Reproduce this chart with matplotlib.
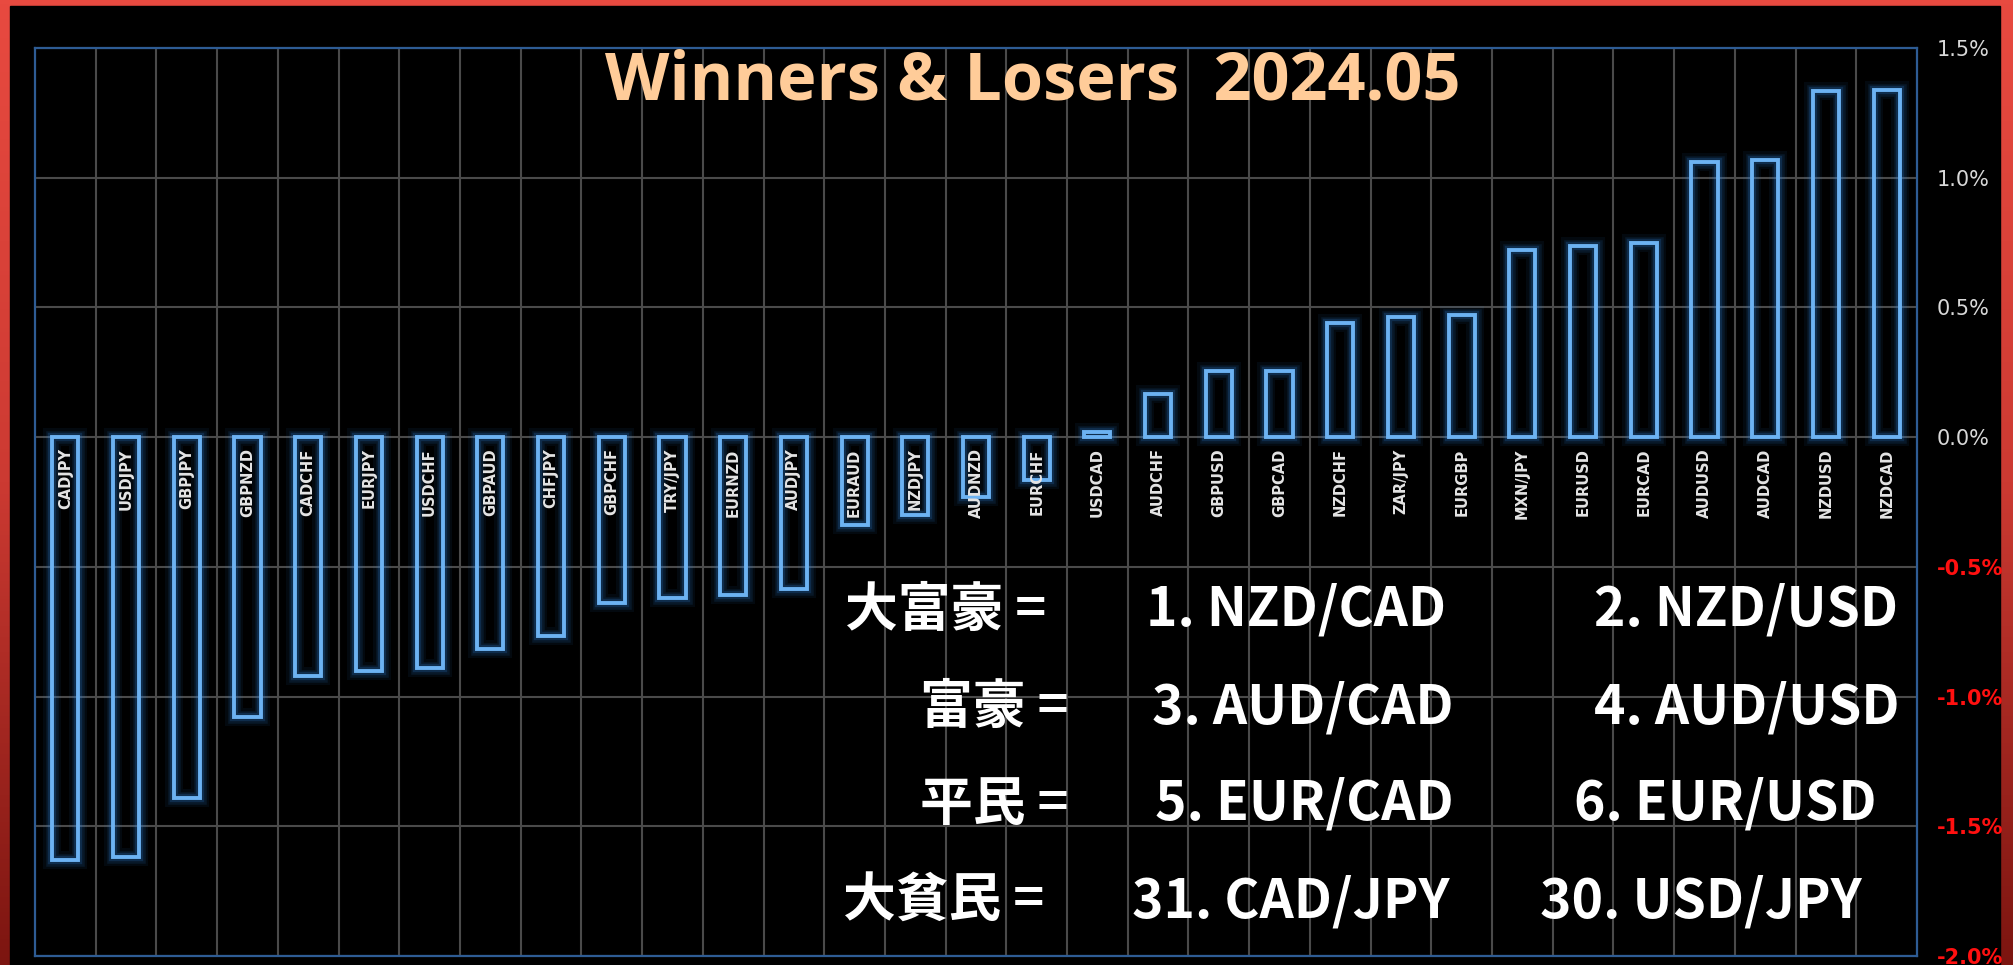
import matplotlib.pyplot as plt
import numpy as np
from matplotlib.patches import Rectangle
from matplotlib.colors import LinearSegmentedColormap

# monthly change (%) per pair, sorted low -> high
pairs = ['CADJPY', 'USDJPY', 'GBPJPY', 'GBPNZD', 'CADCHF', 'EURJPY', 'USDCHF', 'GBPAUD',
         'CHFJPY', 'GBPCHF', 'TRY/JPY', 'EURNZD', 'AUDJPY', 'EURAUD', 'NZDJPY', 'AUDNZD',
         'EURCHF', 'USDCAD', 'AUDCHF', 'GBPUSD', 'GBPCAD', 'NZDCHF', 'ZAR/JPY', 'EURGBP',
         'MXN/JPY', 'EURUSD', 'EURCAD', 'AUDUSD', 'AUDCAD', 'NZDUSD', 'NZDCAD']
change = [-1.63, -1.62, -1.39, -1.08, -0.92, -0.90, -0.89, -0.815,
          -0.765, -0.64, -0.62, -0.61, -0.585, -0.34, -0.30, -0.23,
          -0.165, 0.02, 0.165, 0.255, 0.255, 0.44, 0.465, 0.47,
          0.72, 0.735, 0.75, 1.06, 1.07, 1.335, 1.34]
yticks = [-2.0, -1.5, -1.0, -0.5, 0.0, 0.5, 1.0, 1.5]

rank_titles = ['大富豪 =', '富豪 =', '平民 =', '大貧民 =']
rank_first = ['1. NZD/CAD', '3. AUD/CAD', '5. EUR/CAD', '31. CAD/JPY']
rank_second = ['2. NZD/USD', '4. AUD/USD', '6. EUR/USD', '30. USD/JPY']

W, H = 2013, 965
fig = plt.figure(figsize=(W / 100, H / 100), dpi=100)

# red frame + black panel
bg = fig.add_axes([0, 0, 1, 1])
bg.axis('off')
cmap = LinearSegmentedColormap.from_list('frame', ['#e84a40', '#cc3a32', '#7c1510'])
bg.imshow(np.linspace(0, 1, 256).reshape(-1, 1), aspect='auto', cmap=cmap,
          extent=[0, 1, 0, 1])
bg.add_patch(Rectangle((10 / W, 0), 1990 / W, 1 - 6 / H, color='black'))
bg.set_xlim(0, 1)
bg.set_ylim(0, 1)

ax = fig.add_axes([35 / W, 1 - 956 / H, 1882 / W, 908 / H])
ax.set_facecolor('black')
x = np.arange(len(pairs))

# glow, then the outline
for lw, a in [(13, 0.07), (9, 0.12), (6, 0.2)]:
    ax.bar(x, change, 0.43, facecolor='none', edgecolor='#2f86e0', linewidth=lw, alpha=a)
ax.bar(x, change, 0.43, facecolor='none', edgecolor='#6cb2f2', linewidth=2.8)

ax.set_xlim(-0.5, len(pairs) - 0.5)
ax.set_ylim(-2.0, 1.5)
ax.set_xticks([])
ax.set_xticks(x[:-1] + 0.5, minor=True)
ax.set_yticks(yticks)
ax.set_yticklabels([f'{v:.1f}%' for v in yticks], fontsize=15)
ax.yaxis.tick_right()
ax.tick_params(which='both', length=0)
ax.tick_params(axis='y', pad=14)
for lbl, v in zip(ax.get_yticklabels(), yticks):
    lbl.set_color('#ff1010' if v < 0 else '#d8d8d8')
    lbl.set_fontweight('bold' if v < 0 else 'normal')
ax.grid(which='minor', axis='x', color='#4a4a4a', lw=1.5)
ax.grid(which='major', axis='y', color='#4a4a4a', lw=1.5)
ax.set_axisbelow(True)
for s in ax.spines.values():
    s.set_color('#2e5c94')
    s.set_linewidth(1.6)

for i, p in enumerate(pairs):
    ax.annotate(p, (i, 0), xytext=(0, -8), textcoords='offset points', rotation=90,
                ha='center', va='top', fontsize=10.5, fontweight='bold', color='#e4e4e4')

fig.text(1033 / W, 1 - 100 / H, 'Winners & Losers  2024.05', ha='center', va='baseline',
         fontsize=48, fontweight='bold', color='#ffcc99', family='Open Sans')

jp = ['Noto Sans CJK JP', 'DejaVu Sans']
baselines = [626, 723, 820, 917]
left_end = [1046, 1069, 1069, 1044]
mid_start = [1146, 1152, 1155, 1132]
right_end = [1898, 1900, 1876, 1862]
for i in range(4):
    yb = 1 - baselines[i] / H
    fig.text(left_end[i] / W, yb, rank_titles[i], ha='right',
             va='baseline', fontsize=38, fontweight='bold', color='white', family=jp)
    fig.text(mid_start[i] / W, yb, rank_first[i], ha='left', va='baseline',
             fontsize=38.5, fontweight='bold', color='white', family=jp)
    fig.text(right_end[i] / W, yb, rank_second[i], ha='right', va='baseline',
             fontsize=38.5, fontweight='bold', color='white', family=jp)

fig.savefig('out.png', dpi=100)
